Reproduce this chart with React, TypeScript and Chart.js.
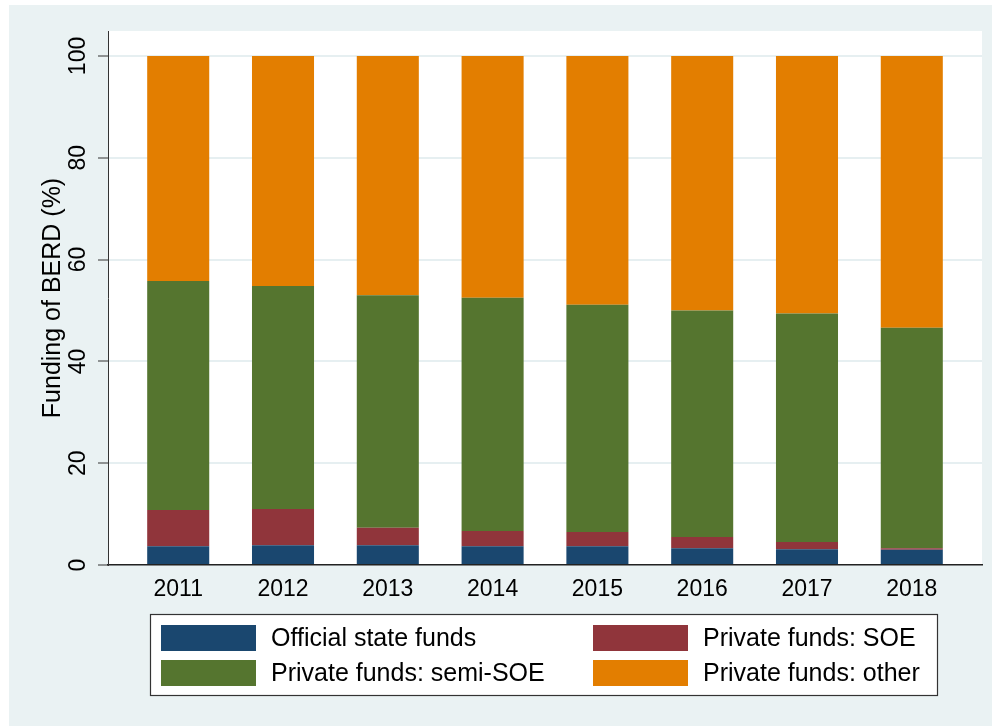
import React, { useEffect, useRef } from 'react';
import { Chart, registerables } from 'chart.js';

Chart.register(...registerables);

const years = ['2011', '2012', '2013', '2014', '2015', '2016', '2017', '2018'];
const officialStateFunds = [3.7, 3.9, 3.9, 3.7, 3.7, 3.3, 3.1, 3.0];
const privateFundsSOE = [7.1, 7.1, 3.4, 3.0, 2.8, 2.2, 1.4, 0.3];
const privateFundsSemiSOE = [45.0, 43.8, 45.7, 45.8, 44.6, 44.5, 44.9, 43.3];
const privateFundsOther = [44.2, 45.2, 47.0, 47.5, 48.9, 50.0, 50.6, 53.4];
const yTicks = [0, 20, 40, 60, 80, 100];
const seriesLabels = ['Official state funds', 'Private funds: SOE', 'Private funds: semi-SOE', 'Private funds: other'];
const seriesColors = ['#1A476F', '#90353B', '#55752F', '#E37E00'];
const yTitle = 'Funding of BERD (%)';

const FONT = '"Liberation Sans", Arial, Helvetica, sans-serif';

const stataPlugin = {
  id: 'stataLook',
  beforeDraw(chart: any) {
    const { ctx, chartArea: a, width, height } = chart;
    ctx.save();
    ctx.fillStyle = '#ffffff';
    ctx.fillRect(0, 0, width, height);
    ctx.fillStyle = '#EAF2F3';
    ctx.fillRect(9, 5, width - 9, height - 5);
    ctx.fillStyle = '#ffffff';
    ctx.fillRect(a.left, a.top, a.right - a.left, a.bottom - a.top);
    ctx.restore();
  },
  afterDraw(chart: any) {
    const { ctx, chartArea: a, scales } = chart;
    const xs = scales.x;
    const ys = scales.y;
    ctx.save();
    ctx.fillStyle = '#000000';
    ctx.textAlign = 'center';
    ctx.textBaseline = 'middle';

    // y tick labels (rotated, Stata style)
    ctx.font = `23px ${FONT}`;
    yTicks.forEach((v) => {
      const py = ys.getPixelForValue(v);
      ctx.save();
      ctx.translate(79, py);
      ctx.rotate(-Math.PI / 2);
      ctx.fillText(String(v), 0, 0);
      ctx.restore();
    });

    // y axis title
    ctx.font = `25px ${FONT}`;
    ctx.save();
    ctx.translate(53, (a.top + a.bottom) / 2);
    ctx.rotate(-Math.PI / 2);
    ctx.fillText(yTitle, 0, 0);
    ctx.restore();

    // x category labels
    ctx.font = `23px ${FONT}`;
    years.forEach((lab, i) => {
      ctx.fillText(lab, xs.getPixelForValue(i), 590);
    });

    // legend
    const box = { l: 150, t: 614, r: 938, b: 696 };
    ctx.fillStyle = '#ffffff';
    ctx.fillRect(box.l, box.t, box.r - box.l, box.b - box.t);
    ctx.strokeStyle = '#333333';
    ctx.lineWidth = 1.2;
    ctx.strokeRect(box.l + 0.5, box.t + 0.5, box.r - box.l - 1, box.b - box.t - 1);
    const colX = [161, 593];
    const rowY = [625, 660];
    ctx.font = `25px ${FONT}`;
    ctx.textAlign = 'left';
    chart.data.datasets.forEach((ds: any, k: number) => {
      const cx = colX[k % 2];
      const ry = rowY[Math.floor(k / 2)];
      ctx.fillStyle = ds.backgroundColor;
      ctx.fillRect(cx, ry, 95, 26);
      ctx.fillStyle = '#000000';
      ctx.fillText(ds.label, cx + 110, ry + 14);
    });
    ctx.restore();
  },
};

export default function App() {
  const canvasRef = useRef<HTMLCanvasElement | null>(null);

  useEffect(() => {
    const canvas = canvasRef.current;
    if (!canvas) return;
    const seriesValues = [officialStateFunds, privateFundsSOE, privateFundsSemiSOE, privateFundsOther];
    const chart = new Chart(canvas, {
      type: 'bar',
      data: {
        datasets: seriesValues.map((vals, k) => ({
          label: seriesLabels[k],
          data: vals.map((v, i) => ({ x: i, y: v })),
          backgroundColor: seriesColors[k],
          borderWidth: 0,
          categoryPercentage: 1,
          barPercentage: 0.592,
          stack: 's',
        })),
      },
      options: {
        responsive: false,
        animation: false,
        devicePixelRatio: 1,
        layout: { padding: { left: 98, right: 10, top: 31, bottom: 161 } },
        plugins: { legend: { display: false }, tooltip: { enabled: false } },
        scales: {
          x: {
            type: 'linear',
            stacked: true,
            min: -0.67,
            max: 7.67,
            offset: false,
            afterBuildTicks: (s: any) => {
              s.ticks = years.map((_, i) => ({ value: i }));
            },
            ticks: { display: false },
            grid: { display: false, drawTicks: false, offset: false },
            border: { display: true, color: '#222222', width: 1.5 },
          },
          y: {
            type: 'linear',
            stacked: true,
            min: 0,
            max: 104.9,
            afterBuildTicks: (s: any) => {
              s.ticks = yTicks.map((v) => ({ value: v }));
            },
            ticks: { display: false },
            grid: { color: '#E6EFF1', lineWidth: 2, drawTicks: true, tickLength: 10, tickColor: '#333333', tickWidth: 1 },
            border: { display: true, color: '#333333', width: 1 },
          },
        },
      },
      plugins: [stataPlugin],
    } as any);
    return () => chart.destroy();
  }, []);

  return (
    <div style={{ position: 'absolute', left: 0, top: 0, width: 992, height: 726 }}>
      <canvas ref={canvasRef} width={992} height={726} style={{ display: 'block' }} />
    </div>
  );
}
